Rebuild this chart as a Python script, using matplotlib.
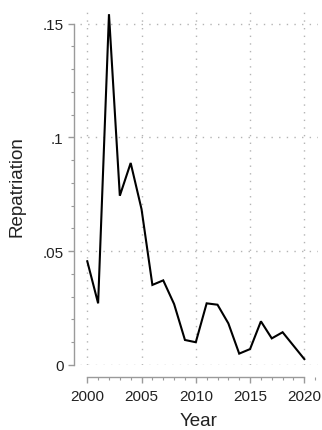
import matplotlib
matplotlib.use("Agg")
import matplotlib.pyplot as plt
from matplotlib.ticker import FixedLocator, MultipleLocator

years = list(range(2000, 2021))
repatriation = [0.0456, 0.0271, 0.1542, 0.0744, 0.0888, 0.0685, 0.0352, 0.0372,
                0.0268, 0.0110, 0.0100, 0.0271, 0.0265, 0.0183, 0.0050, 0.0070,
                0.0192, 0.0117, 0.0144, 0.0085, 0.0026]
xticks = [2000, 2005, 2010, 2015, 2020]
yticks = [0, 0.05, 0.1, 0.15]
ytick_labels = ["0", ".05", ".1", ".15"]

plt.rcParams['font.family'] = ['Liberation Sans', 'DejaVu Sans']

W, H = 322, 431
fig = plt.figure(figsize=(W / 100, H / 100), dpi=100)
ax = fig.add_axes([80 / W, (H - 366) / H, (318 - 80) / W, (366 - 7) / H])

ax.plot(years, repatriation, color='black', lw=1.5, solid_joinstyle='miter', zorder=3)

ax.set_xlim(1999.33, 2021.26)
ax.set_ylim(0, 0.1578)

ax.xaxis.set_major_locator(FixedLocator(xticks))
ax.xaxis.set_minor_locator(MultipleLocator(1))
ax.yaxis.set_major_locator(FixedLocator(yticks))
ax.yaxis.set_minor_locator(MultipleLocator(0.01))
ax.set_yticklabels(ytick_labels)
ax.set_xticklabels([str(x) for x in xticks])

gridkw = dict(color='#b4b4b4', lw=1.0, linestyle=(0, (1, 4.5)))
ax.grid(True, which='major', **gridkw)
ax.set_axisbelow(True)

for s in ['top', 'right']:
    ax.spines[s].set_visible(False)
spc = '#9a9a9a'
ax.spines['left'].set_position(('outward', 4.3))
ax.spines['bottom'].set_position(('outward', 8.6))
ax.spines['left'].set_bounds(0, 0.15)
ax.spines['bottom'].set_bounds(2000, 2020)
ax.spines['left'].set_color(spc)
ax.spines['bottom'].set_color(spc)
ax.spines['left'].set_linewidth(1.0)
ax.spines['bottom'].set_linewidth(1.0)

ax.tick_params(which='major', length=4.5, width=1.0, color=spc, labelsize=11,
               labelcolor='#222222')
ax.tick_params(axis='x', which='major', pad=4)
ax.tick_params(axis='y', which='major', pad=3)
ax.tick_params(which='minor', length=2.2, width=0.8, color=spc)

ax.set_ylabel('Repatriation', fontsize=13.5, color='#222222', labelpad=12)
ax.set_xlabel('Year', fontsize=13.5, color='#222222', labelpad=6.5)

fig.savefig('out.png', dpi=100, facecolor='white')
